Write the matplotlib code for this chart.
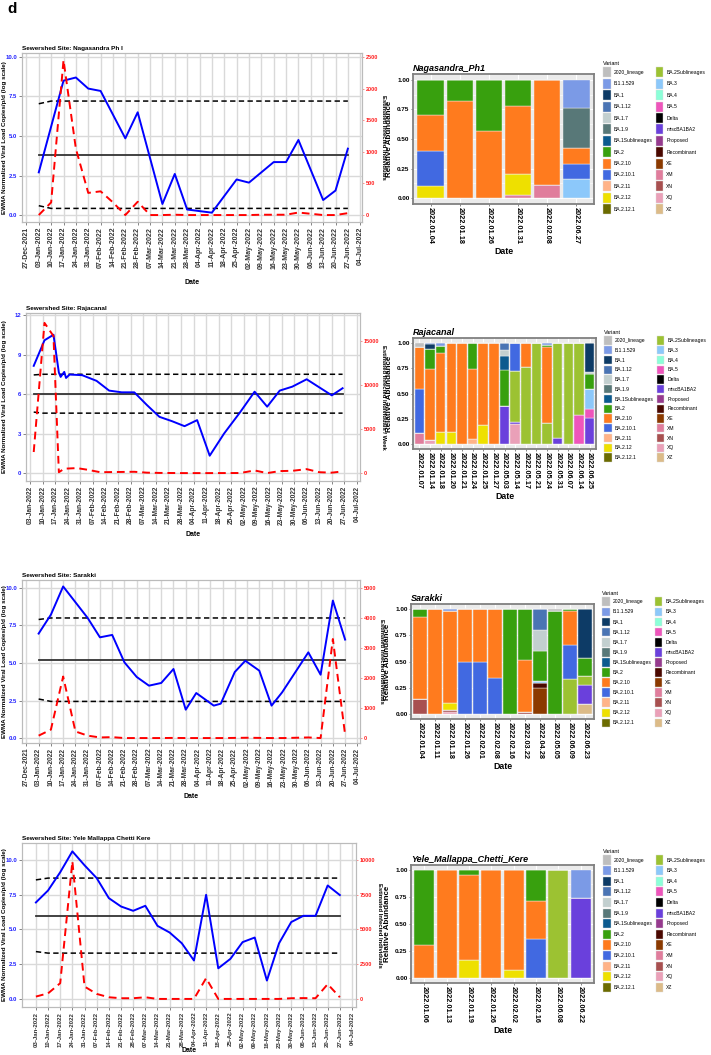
import numpy as np
import matplotlib
matplotlib.use("Agg")
import matplotlib.pyplot as plt
from matplotlib.patches import Patch
from datetime import datetime, timedelta

plt.rcParams['font.family'] = ['Liberation Sans', 'DejaVu Sans']

W, H = 711, 1055

# ---------------- variant palette (legend order) ----------------
variants = ['2020_lineage', 'B.1.1.529', 'BA.1', 'BA.1.12', 'BA.1.7', 'BA.1.9',
            'BA.1Sublineages', 'BA.2', 'BA.2.10', 'BA.2.10.1', 'BA.2.11', 'BA.2.12',
            'BA.2.12.1', 'BA.2Sublineages', 'BA.3', 'BA.4', 'BA.5', 'Delta',
            'miscBA1BA2', 'Proposed', 'Recombinant', 'XE', 'XM', 'XN', 'XQ', 'XZ']
variant_colors = ['#BEBEBE', '#7B9AE6', '#0D3B66', '#4A74B4', '#C2CFCF', '#587878',
                  '#0B5A8E', '#38A00E', '#FF7B1E', '#4169E1', '#FFB388', '#EEE000',
                  '#6B6B00', '#9CC232', '#8CC8FA', '#8CFFD8', '#EE55BB', '#000000',
                  '#6A40DC', '#963A8E', '#4A0800', '#8B3A00', '#E07D9C', '#A85050',
                  '#EAA0B8', '#DCBB88']

# ---------------- Nagasandra Ph I ----------------
naga_blue_d = ['2022-01-03', '2022-01-17', '2022-01-24', '2022-01-31', '2022-02-07', '2022-02-21',
               '2022-02-28', '2022-03-14', '2022-03-21', '2022-03-28', '2022-04-11', '2022-04-25',
               '2022-05-02', '2022-05-16', '2022-05-23', '2022-05-30', '2022-06-13', '2022-06-20',
               '2022-06-27']
naga_blue_v = [2.7, 8.5, 8.7, 8.0, 7.85, 4.85, 6.5, 0.7, 2.6, 0.35, 0.15, 2.25,
               2.05, 3.35, 3.35, 4.75, 0.95, 1.55, 4.2]
naga_red_d = ['2022-01-03', '2022-01-10', '2022-01-17', '2022-01-24', '2022-01-31', '2022-02-07',
              '2022-02-14', '2022-02-21', '2022-02-28', '2022-03-07', '2022-03-14', '2022-03-21',
              '2022-03-28', '2022-04-04', '2022-04-11', '2022-04-18', '2022-04-25', '2022-05-02',
              '2022-05-09', '2022-05-16', '2022-05-23', '2022-05-30', '2022-06-06', '2022-06-13',
              '2022-06-20', '2022-06-27']
naga_red_v = [0, 200, 2450, 1050, 350, 375, 200, 0, 210, 0, 0, 5, 0, 0, 0, 0, 0, 0,
              5, 5, 5, 40, 20, 0, 0, 30]
naga_ctl_d = ['2022-01-03', '2022-01-10', '2022-06-27']
naga_mean = [3.8, 3.8, 3.8]
naga_ucl = [7.04, 7.21, 7.21]
naga_lcl = [0.59, 0.42, 0.42]

naga_bar_dates = ['2022.01.04', '2022.01.18', '2022.01.26', '2022.01.31', '2022.02.08', '2022.06.27']
naga_comp = {
    'B.1.1.529': [0, 0, 0, 0, 0, 0.24],
    'BA.1.9': [0, 0, 0, 0, 0, 0.34],
    'BA.2': [0.30, 0.18, 0.43, 0.22, 0, 0],
    'BA.2.10': [0.30, 0.82, 0.57, 0.58, 0.885, 0.13],
    'BA.2.10.1': [0.30, 0, 0, 0, 0, 0.13],
    'BA.2.12': [0.10, 0, 0, 0.17, 0, 0],
    'BA.3': [0, 0, 0, 0, 0, 0.16],
    'XM': [0, 0, 0, 0.03, 0.115, 0],
}

# ---------------- Rajacanal ----------------
raja_blue_d = ['2022-01-05', '2022-01-11', '2022-01-16', '2022-01-19', '2022-01-20', '2022-01-22',
               '2022-01-23', '2022-01-25', '2022-02-01', '2022-02-09', '2022-02-16', '2022-02-23',
               '2022-03-02', '2022-03-09', '2022-03-16', '2022-03-23', '2022-03-30', '2022-04-06',
               '2022-04-13', '2022-04-21', '2022-04-30', '2022-05-08', '2022-05-15', '2022-05-22',
               '2022-05-29', '2022-06-06', '2022-06-20', '2022-06-26']
raja_blue_v = [8.14, 10.08, 10.5, 7.63, 7.3, 7.68, 7.22, 7.48, 7.43, 7.0, 6.26, 6.13,
               6.13, 5.17, 4.27, 3.94, 3.56, 4.02, 1.32, 3.0, 4.63, 6.18, 5.04, 6.26,
               6.56, 7.12, 5.9, 6.44]
raja_red_d = ['2022-01-05', '2022-01-11', '2022-01-16', '2022-01-19', '2022-01-22', '2022-01-29',
              '2022-02-04', '2022-02-11', '2022-03-02', '2022-03-09', '2022-03-16', '2022-03-30',
              '2022-04-13', '2022-04-30', '2022-05-08', '2022-05-15', '2022-05-22', '2022-05-29',
              '2022-06-06', '2022-06-13', '2022-06-20', '2022-06-26']
raja_red_v = [2400, 17100, 15600, 100, 500, 570, 380, 100, 150, 50, 20, 0,
              0, 10, 300, 0, 230, 260, 450, 100, 50, 190]
raja_ctl_d = ['2022-01-05', '2022-01-10', '2022-06-26']
raja_mean = [6.0, 6.0, 6.0]
raja_ucl = [7.45, 7.5, 7.5]
raja_lcl = [4.63, 4.55, 4.55]

raja_bar_dates = ['2022.01.07', '2022.01.14', '2022.01.18', '2022.01.20', '2022.01.21', '2022.01.24',
                  '2022.01.25', '2022.01.27', '2022.05.03', '2022.05.14', '2022.05.17', '2022.05.21',
                  '2022.05.24', '2022.05.31', '2022.06.07', '2022.06.14', '2022.06.25']
raja_comp = {
    '2020_lineage': [0.04, 0, 0, 0, 0, 0, 0, 0, 0, 0, 0, 0, 0, 0, 0, 0, 0],
    'B.1.1.529': [0, 0.01, 0.03, 0, 0, 0, 0, 0, 0, 0, 0, 0, 0.02, 0, 0, 0, 0],
    'BA.1': [0, 0.05, 0, 0, 0, 0, 0, 0, 0, 0, 0, 0, 0, 0, 0, 0, 0.29],
    'BA.1.12': [0, 0, 0, 0, 0, 0, 0, 0, 0.07, 0, 0, 0, 0, 0, 0, 0, 0],
    'BA.1.7': [0, 0, 0, 0, 0, 0, 0, 0, 0.06, 0, 0, 0, 0, 0, 0, 0, 0.02],
    'BA.1Sublineages': [0, 0, 0, 0, 0, 0, 0, 0, 0.14, 0, 0, 0, 0, 0, 0, 0, 0],
    'BA.2': [0, 0.20, 0.07, 0, 0, 0.26, 0, 0, 0.35, 0, 0, 0, 0.02, 0, 0, 0, 0.15],
    'BA.2.10': [0.415, 0.70, 0.78, 0.88, 1.0, 0.69, 0.81, 1.0, 0, 0, 0.24, 0, 0.75, 0, 0, 0, 0],
    'BA.2.10.1': [0.435, 0, 0, 0, 0, 0, 0, 0, 0, 0.28, 0, 0, 0, 0, 0, 0, 0],
    'BA.2.11': [0, 0, 0, 0, 0, 0.05, 0, 0, 0, 0, 0, 0, 0, 0, 0, 0, 0],
    'BA.2.12': [0, 0, 0.12, 0.12, 0, 0, 0.19, 0, 0, 0, 0, 0, 0, 0, 0, 0, 0],
    'BA.2Sublineages': [0, 0, 0, 0, 0, 0, 0, 0, 0, 0.50, 0.76, 1.0, 0.21, 0.94, 1.0, 0.71, 0],
    'BA.3': [0, 0, 0, 0, 0, 0, 0, 0, 0, 0, 0, 0, 0, 0, 0, 0, 0.19],
    'BA.5': [0, 0, 0, 0, 0, 0, 0, 0, 0, 0, 0, 0, 0, 0, 0, 0.29, 0.09],
    'miscBA1BA2': [0, 0, 0, 0, 0, 0, 0, 0, 0.38, 0.02, 0, 0, 0, 0.06, 0, 0, 0.26],
    'XM': [0.11, 0, 0, 0, 0, 0, 0, 0, 0, 0, 0, 0, 0, 0, 0, 0, 0],
    'XQ': [0, 0.04, 0, 0, 0, 0, 0, 0, 0, 0.20, 0, 0, 0, 0, 0, 0, 0],
}

# ---------------- Sarakki ----------------
sara_blue_d = ['2022-01-03', '2022-01-10', '2022-01-17', '2022-01-31', '2022-02-07', '2022-02-14',
               '2022-02-21', '2022-02-28', '2022-03-07', '2022-03-14', '2022-03-21', '2022-03-28',
               '2022-04-03', '2022-04-13', '2022-04-17', '2022-04-25', '2022-05-01', '2022-05-09',
               '2022-05-16', '2022-05-22', '2022-06-06', '2022-06-13', '2022-06-20', '2022-06-27']
sara_blue_v = [6.96, 8.22, 10.1, 8.0, 6.71, 6.87, 5.04, 4.07, 3.49, 3.67, 4.6, 1.89,
               3.0, 2.16, 2.29, 4.4, 5.15, 4.49, 2.16, 3.04, 5.71, 4.22, 9.16, 6.56]
sara_red_d = ['2022-01-03', '2022-01-10', '2022-01-17', '2022-01-24', '2022-01-31', '2022-02-07',
              '2022-02-14', '2022-02-21', '2022-02-28', '2022-03-07', '2022-03-14', '2022-03-21',
              '2022-03-28', '2022-04-04', '2022-04-11', '2022-04-18', '2022-04-25', '2022-05-02',
              '2022-05-09', '2022-05-16', '2022-05-23', '2022-05-30', '2022-06-06', '2022-06-13',
              '2022-06-20', '2022-06-27']
sara_red_v = [80, 280, 2050, 220, 80, 20, 30, 0, 0, 0, 0, 5, 0, 0, 0, 0, 5, 10,
              5, 0, 0, 10, 20, 0, 3300, 110]
sara_ctl_d = ['2022-01-03', '2022-01-10', '2022-06-27']
sara_mean = [5.22, 5.22, 5.22]
sara_ucl = [7.9, 8.0, 8.0]
sara_lcl = [2.6, 2.44, 2.44]

sara_bar_dates = ['2022.01.04', '2022.01.11', '2022.01.18', '2022.01.26', '2022.02.01', '2022.02.08',
                  '2022.02.16', '2022.03.22', '2022.04.28', '2022.05.05', '2022.06.09', '2022.06.23']
sara_comp = {
    '2020_lineage': [0, 0, 0, 0, 0, 0, 0, 0, 0, 0.02, 0, 0],
    'B.1.1.529': [0, 0, 0.015, 0, 0, 0, 0, 0, 0, 0, 0, 0],
    'BA.1': [0, 0, 0, 0, 0, 0, 0, 0, 0, 0, 0, 0.47],
    'BA.1.12': [0, 0, 0, 0, 0, 0, 0, 0, 0.20, 0, 0, 0],
    'BA.1.7': [0, 0, 0, 0, 0, 0, 0, 0, 0.20, 0, 0, 0],
    'BA.2': [0.07, 0, 0, 0, 0, 0, 1.0, 0.49, 0.29, 0.98, 0.02, 0.17],
    'BA.2.10': [0.79, 1.0, 0.885, 0.5, 0.5, 0.66, 0, 0.49, 0, 0, 0.32, 0],
    'BA.2.10.1': [0, 0, 0, 0.5, 0.5, 0.34, 0, 0, 0, 0, 0.33, 0],
    'BA.2.12': [0, 0, 0.06, 0, 0, 0, 0, 0, 0, 0, 0, 0],
    'BA.2Sublineages': [0, 0, 0, 0, 0, 0, 0, 0, 0, 0, 0.33, 0.08],
    'BA.3': [0, 0, 0, 0, 0, 0, 0, 0, 0.02, 0, 0, 0],
    'miscBA1BA2': [0, 0, 0, 0, 0, 0, 0, 0, 0, 0, 0, 0.19],
    'Recombinant': [0, 0, 0, 0, 0, 0, 0, 0, 0.04, 0, 0, 0],
    'XE': [0, 0, 0, 0, 0, 0, 0, 0, 0.25, 0, 0, 0],
    'XN': [0.14, 0, 0.02, 0, 0, 0, 0, 0.02, 0, 0, 0, 0],
    'XQ': [0, 0, 0.02, 0, 0, 0, 0, 0, 0, 0, 0, 0],
    'XZ': [0, 0, 0, 0, 0, 0, 0, 0, 0, 0, 0, 0.09],
}

# ---------------- Yele Mallappa Chetti Kere ----------------
yele_blue_d = ['2022-01-03', '2022-01-10', '2022-01-17', '2022-01-24', '2022-01-31', '2022-02-07',
               '2022-02-14', '2022-02-21', '2022-02-28', '2022-03-07', '2022-03-14', '2022-03-21',
               '2022-03-28', '2022-04-04', '2022-04-11', '2022-04-18', '2022-04-25', '2022-05-02',
               '2022-05-09', '2022-05-16', '2022-05-23', '2022-05-30', '2022-06-06', '2022-06-13',
               '2022-06-20', '2022-06-27']
yele_blue_v = [6.93, 7.79, 9.1, 10.6, 9.6, 8.68, 7.24, 6.64, 6.33, 6.69, 5.25, 4.77,
               4.0, 2.76, 7.48, 2.2, 2.88, 4.08, 4.41, 1.32, 4.0, 5.52, 5.97, 5.97,
               8.15, 7.46]
yele_red_d = yele_blue_d
yele_red_v = [170, 400, 1130, 9880, 890, 360, 120, 50, 50, 120, 0, 0,
              0, 0, 1490, 0, 0, 0, 0, 0, 0, 50, 60, 50, 1060, 120]
yele_ctl_d = ['2022-01-03', '2022-01-10', '2022-06-27']
yele_mean = [5.97, 5.97, 5.97]
yele_ucl = [8.55, 8.68, 8.68]
yele_lcl = [3.4, 3.29, 3.29]

yele_bar_dates = ['2022.01.06', '2022.01.13', '2022.01.19', '2022.01.26', '2022.02.02', '2022.02.16',
                  '2022.06.08', '2022.06.22']
yele_comp = {
    'B.1.1.529': [0, 0, 0, 0, 0, 0, 0, 0.26],
    'BA.2': [0.70, 0, 0.04, 0, 0, 0.29, 0, 0],
    'BA.2.10': [0.30, 1.0, 0.80, 1.0, 0.93, 0.35, 0, 0],
    'BA.2.10.1': [0, 0, 0, 0, 0, 0.36, 0, 0],
    'BA.2.12': [0, 0, 0.16, 0, 0.07, 0, 0, 0],
    'BA.2Sublineages': [0, 0, 0, 0, 0, 0, 1.0, 0],
    'miscBA1BA2': [0, 0, 0, 0, 0, 0, 0, 0.74],
}


def dt(s):
    return datetime.strptime(s, '%Y-%m-%d')


fig = plt.figure(figsize=(W / 100, H / 100), dpi=100)


def box(l, t, r, b):
    return fig.add_axes([l / W, 1 - b / H, (r - l) / W, (b - t) / H])


def line_panel(rect, title, first_tick, xpad, blue_d, blue_v, red_d, red_v, ctl_d, mean, ucl, lcl,
               ylim, yticks, ylabels, factor, rticks, rlabel, xfont, date_y, rlab_x):
    ax = box(*rect)
    ticks = []
    t = dt(first_tick)
    while t <= dt('2022-07-04'):
        ticks.append(t)
        t += timedelta(days=7)
    ax.set_xlim(ticks[0] - timedelta(days=xpad[0]), ticks[-1] + timedelta(days=xpad[1]))
    ax.set_ylim(*ylim)
    ax.set_xticks(ticks)
    ax.set_xticklabels([x.strftime('%d-%b-%Y') for x in ticks], rotation=90,
                       fontsize=xfont, fontweight='bold', color='#333333')
    ax.set_yticks(yticks)
    ax.set_yticklabels(ylabels, fontsize=4.3, fontweight='bold', color='#2222FF')
    ax.grid(True, color='#D9D9D9', lw=1.0)
    ax.set_axisbelow(True)
    for sp in ax.spines.values():
        sp.set_color('#BBBBBB')
        sp.set_linewidth(0.8)
    ax.tick_params(length=2, width=0.5, color='#555555', pad=1.5)

    cd = [dt(s) for s in ctl_d]
    ax.plot(cd, mean, color='#333333', lw=1.3, zorder=3)
    ax.plot(cd, ucl, color='black', lw=1.1, dashes=(3.5, 2.2), zorder=3)
    ax.plot(cd, lcl, color='black', lw=1.1, dashes=(3.5, 2.2), zorder=3)
    ax.plot([dt(s) for s in blue_d], blue_v, color='#0000FF', lw=1.4, zorder=4)

    ax2 = ax.twinx()
    ax2.set_ylim(ylim[0] * factor, ylim[1] * factor)
    ax2.plot([dt(s) for s in red_d], red_v, color='#FF0000', lw=1.4, dashes=(4, 2.5), zorder=5)
    ax2.set_yticks(rticks)
    ax2.set_yticklabels([str(v) for v in rticks], fontsize=4.0, fontweight='bold', color='#FF2020')
    ax2.tick_params(length=1.5, width=0.5, color='#FF6060', pad=1.0)
    for sp in ax2.spines.values():
        sp.set_color('#BBBBBB')
        sp.set_linewidth(0.8)

    l, top, r, b = rect
    fig.text(l / W, 1 - (top - 2) / H, title, fontsize=4.6, fontweight='bold', va='bottom', ha='left')
    fig.text(5 / W, 1 - (top + b) / 2 / H, 'EWMA Normalized Viral Load Copies/p/d (log scale)',
             rotation=90, fontsize=4.5, fontweight='bold', va='center', ha='center')
    fig.text(rlab_x / W, 1 - (top + b) / 2 / H, rlabel, rotation=270, fontsize=4.2,
             fontweight='bold', va='center', ha='center')
    fig.text((l + r) / 2 / W, 1 - date_y / H, 'Date', fontsize=5, fontweight='bold',
             va='center', ha='center')


def bar_panel(rect, title, dates, comp, legend_xy, key_h, spacing):
    ax = box(*rect)
    ax.set_facecolor('#EBEBEB')
    x = np.arange(len(dates))
    bottom = np.zeros(len(dates))
    for name, col in list(zip(variants, variant_colors))[::-1]:
        if name in comp:
            vals = np.array(comp[name], dtype=float)
            ax.bar(x, vals, 0.9, bottom=bottom, color=col, edgecolor='#F4F4F4', linewidth=0.3,
                   zorder=3)
            bottom += vals
    ax.set_xlim(-0.6, len(dates) - 0.4)
    ax.set_ylim(-0.05, 1.05)
    ax.set_xticks(x)
    ax.set_xticklabels(dates, rotation=270, fontsize=5.3, fontweight='bold', va='top', ha='center')
    ax.set_yticks([0, 0.25, 0.5, 0.75, 1.0])
    ax.set_yticklabels(['0.00', '0.25', '0.50', '0.75', '1.00'], fontsize=4.6, fontweight='bold')
    ax.set_yticks([0.125, 0.375, 0.625, 0.875], minor=True)
    ax.grid(True, which='major', color='white', lw=0.8, zorder=0)
    ax.grid(True, which='minor', axis='y', color='white', lw=0.4, zorder=0)
    ax.tick_params(which='major', length=1.5, width=0.5, color='#555555', pad=1.0)
    ax.tick_params(which='minor', length=0)
    for sp in ax.spines.values():
        sp.set_color('#808080')
        sp.set_linewidth(1.3)
    ax.set_title(title, loc='left', fontsize=6.5, fontweight='bold', fontstyle='italic', pad=2)
    ax.set_ylabel('Relative Abundance', fontsize=5.8, fontweight='bold')
    l, t, r, b = rect
    ax.yaxis.set_label_coords((l - 20 - l) / (r - l), 0.5)
    ax.set_xlabel('Date', fontsize=6.3, fontweight='bold', labelpad=2)

    handles = [Patch(facecolor=c, edgecolor='#DDDDDD', lw=0.3) for c in variant_colors]
    fig.legend(handles, variants, ncol=2, loc='upper left',
               bbox_to_anchor=(legend_xy[0] / W, 1 - legend_xy[1] / H),
               frameon=False, fontsize=3.6, title='Variant', title_fontsize=4,
               alignment='left', handlelength=1.5, handleheight=key_h, labelspacing=spacing,
               columnspacing=0.7, handletextpad=0.6, borderpad=0, borderaxespad=0)


fig.text(7 / W, 1 - 2 / H, 'd', fontsize=11, fontweight='bold', va='top', ha='left')

line_panel((22, 53, 362, 222), 'Sewershed Site: Nagasandra Ph I', '2021-12-27', (2.5, 1.0),
           naga_blue_d, naga_blue_v, naga_red_d, naga_red_v, naga_ctl_d, naga_mean, naga_ucl, naga_lcl,
           (-0.44, 10.25), [0, 2.5, 5, 7.5, 10], ['0.0', '2.5', '5.0', '7.5', '10.0'], 250,
           [0, 500, 1000, 1500, 2000, 2500], 'Estimated Infected Individuals', 5.0, 283, 383)
bar_panel((413, 74, 594, 204), 'Nagasandra_Ph1', naga_bar_dates, naga_comp, (603, 61), 2.7, 0.28)

line_panel((26, 313, 360, 481), 'Sewershed Site: Rajacanal', '2022-01-03', (2.3, 1.7),
           raja_blue_d, raja_blue_v, raja_red_d, raja_red_v, raja_ctl_d, raja_mean, raja_ucl, raja_lcl,
           (-0.6, 12.15), [0, 3, 6, 9, 12], ['0', '3', '6', '9', '12'], 1500,
           [0, 5000, 10000, 15000], 'Estimated Infected Individuals / Week', 4.8, 535, 383)
bar_panel((413, 338, 596, 449), 'Rajacanal', raja_bar_dates, raja_comp, (604, 330), 2.19, 0.28)

line_panel((22, 580, 360, 743), 'Sewershed Site: Sarakki', '2021-12-27', (2.5, 1.5),
           sara_blue_d, sara_blue_v, sara_red_d, sara_red_v, sara_ctl_d, sara_mean, sara_ucl, sara_lcl,
           (-0.33, 10.53), [0, 2.5, 5, 7.5, 10], ['0.0', '2.5', '5.0', '7.5', '10.0'], 500,
           [0, 1000, 2000, 3000, 4000, 5000], 'Estimated Infected Individuals', 4.8, 797, 381)
bar_panel((411, 604, 594, 719), 'Sarakki', sara_bar_dates, sara_comp, (602, 591), 2.3, 0.28)

line_panel((22, 843, 356, 1007), 'Sewershed Site: Yele Mallappa Chetti Kere', '2022-01-03', (8.0, 2.3),
           yele_blue_d, yele_blue_v, yele_red_d, yele_red_v, yele_ctl_d, yele_mean, yele_ucl, yele_lcl,
           (-0.58, 11.2), [0, 2.5, 5, 7.5, 10], ['0.0', '2.5', '5.0', '7.5', '10.0'], 1000,
           [0, 2500, 5000, 7500, 10000], 'Estimated Infected Individuals', 4.4, 1050, 379)
bar_panel((411, 865, 594, 983), 'Yele_Mallappa_Chetti_Kere', yele_bar_dates, yele_comp, (603, 849), 2.46, 0.28)

fig.savefig('out.png', dpi=100)
